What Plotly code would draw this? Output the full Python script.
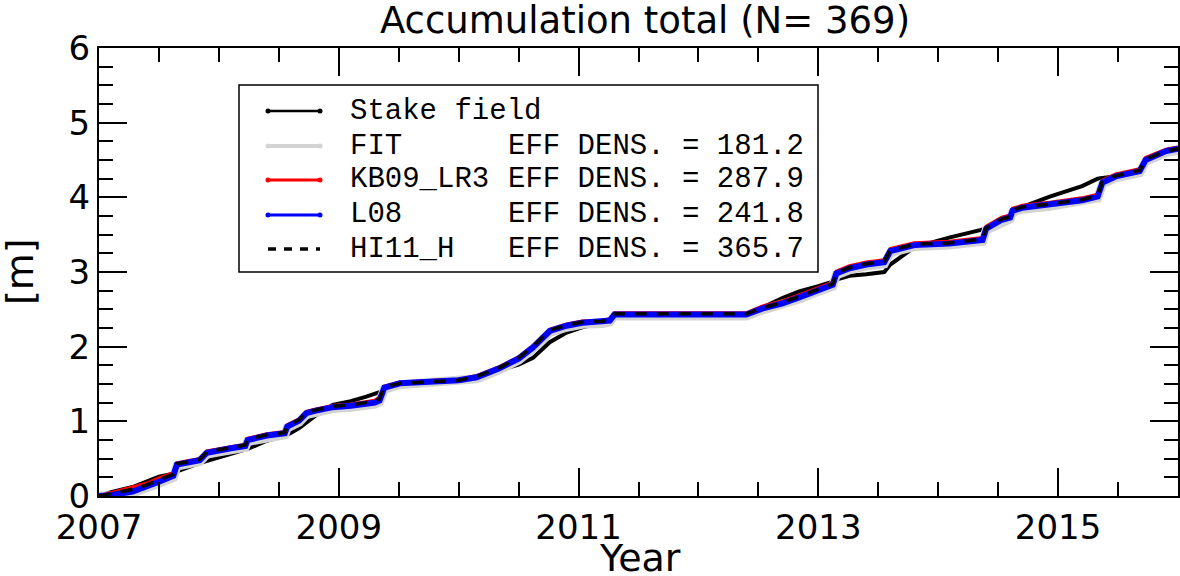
import plotly.graph_objects as go

# ---- data ----
years = [2007.00, 2007.10, 2007.28, 2007.40, 2007.50, 2007.62, 2007.65, 2007.84, 2007.90,
         2008.10, 2008.22, 2008.24, 2008.40, 2008.55, 2008.57, 2008.67, 2008.73, 2008.80, 2008.95,
         2009.10, 2009.23, 2009.30, 2009.34, 2009.38, 2009.51, 2009.70,
         2010.00, 2010.15, 2010.34, 2010.50, 2010.62, 2010.76, 2010.90,
         2011.03, 2011.20, 2011.26, 2011.30,
         2012.40, 2012.53, 2012.70, 2012.84,
         2013.00, 2013.12, 2013.15, 2013.26, 2013.40, 2013.55, 2013.60, 2013.80,
         2014.09, 2014.37, 2014.40, 2014.53, 2014.60, 2014.62, 2014.70, 2014.93,
         2015.20, 2015.33, 2015.37, 2015.48, 2015.68, 2015.73, 2015.90, 2016.00]

stake_field = [0.00, 0.05, 0.12, 0.20, 0.26, 0.30, 0.33, 0.44, 0.47,
               0.56, 0.62, 0.63, 0.74, 0.80, 0.82, 0.91, 0.98, 1.07, 1.22,
               1.27, 1.33, 1.36, 1.39, 1.43, 1.51, 1.53,
               1.54, 1.60, 1.68, 1.76, 1.85, 2.06, 2.19,
               2.26, 2.32, 2.36, 2.39,
               2.39, 2.52, 2.65, 2.74,
               2.81, 2.87, 2.90, 2.95, 2.97, 3.00, 3.10, 3.33,
               3.46, 3.57, 3.59, 3.63, 3.70, 3.75, 3.87, 4.01,
               4.15, 4.25, 4.26, 4.28, 4.32, 4.45, 4.60, 4.63]

fit = [0.00, 0.00, 0.04, 0.10, 0.17, 0.25, 0.40, 0.46, 0.56,
       0.62, 0.65, 0.73, 0.79, 0.82, 0.91, 0.99, 1.09, 1.12, 1.17,
       1.19, 1.21, 1.23, 1.26, 1.43, 1.49, 1.51,
       1.53, 1.57, 1.69, 1.82, 1.97, 2.19, 2.26,
       2.30, 2.31, 2.33, 2.41,
       2.41, 2.49, 2.56, 2.64,
       2.74, 2.81, 2.96, 3.03, 3.08, 3.11, 3.26, 3.34,
       3.36, 3.41, 3.56, 3.68, 3.71, 3.80, 3.84, 3.88,
       3.94, 3.99, 4.18, 4.26, 4.33, 4.48, 4.60, 4.63]

kb09_lr3 = [0.00, 0.04, 0.11, 0.17, 0.24, 0.31, 0.44, 0.50, 0.60,
            0.66, 0.69, 0.77, 0.83, 0.86, 0.95, 1.03, 1.13, 1.16, 1.21,
            1.23, 1.26, 1.28, 1.32, 1.47, 1.52, 1.54,
            1.56, 1.61, 1.73, 1.86, 2.01, 2.23, 2.30,
            2.34, 2.35, 2.37, 2.45,
            2.45, 2.54, 2.61, 2.69,
            2.79, 2.86, 3.01, 3.08, 3.13, 3.16, 3.31, 3.39,
            3.41, 3.46, 3.61, 3.73, 3.76, 3.85, 3.89, 3.93,
            3.99, 4.04, 4.23, 4.31, 4.38, 4.53, 4.64, 4.67]

l08 = [0.00, 0.01, 0.06, 0.12, 0.19, 0.27, 0.42, 0.48, 0.58,
       0.64, 0.67, 0.75, 0.81, 0.84, 0.93, 1.01, 1.11, 1.14, 1.19,
       1.21, 1.23, 1.25, 1.28, 1.45, 1.51, 1.53,
       1.55, 1.59, 1.71, 1.84, 1.99, 2.21, 2.28,
       2.32, 2.33, 2.35, 2.43,
       2.43, 2.51, 2.58, 2.66,
       2.76, 2.83, 2.98, 3.05, 3.10, 3.13, 3.28, 3.36,
       3.38, 3.43, 3.58, 3.70, 3.73, 3.82, 3.86, 3.90,
       3.96, 4.01, 4.20, 4.28, 4.35, 4.50, 4.62, 4.65]

hi11_h = [0.00, 0.03, 0.09, 0.15, 0.22, 0.29, 0.43, 0.49, 0.59,
          0.65, 0.68, 0.76, 0.82, 0.85, 0.94, 1.02, 1.12, 1.15, 1.20,
          1.22, 1.25, 1.27, 1.30, 1.46, 1.51, 1.53,
          1.55, 1.60, 1.72, 1.85, 2.00, 2.22, 2.29,
          2.33, 2.34, 2.36, 2.44,
          2.44, 2.52, 2.59, 2.67,
          2.77, 2.84, 2.99, 3.06, 3.11, 3.14, 3.29, 3.37,
          3.39, 3.44, 3.59, 3.71, 3.74, 3.83, 3.87, 3.91,
          3.97, 4.02, 4.21, 4.29, 4.36, 4.51, 4.62, 4.65]

series_names = ["Stake field", "FIT", "KB09_LR3", "L08", "HI11_H"]
eff_dens = [None, 181.2, 287.9, 241.8, 365.7]
n_points = 369

# ---- styles ----
colors = ["#000000", "#d3d3d3", "#ff0000", "#0000ff", "#000000"]
widths = [4, 9, 3.5, 6, 3.5]
dashes = ["solid", "solid", "solid", "solid", "12px,10px"]
values = [stake_field, fit, kb09_lr3, l08, hi11_h]

W, H = 1180, 576
L, R, T, B = 99, 2, 48, 80
PW, PH = W - L - R, H - T - B

def px(xp):
    return (xp - L) / PW

def py(yp):
    return (H - B - yp) / PH

fig = go.Figure()
for name, vals, c, w, d in zip(series_names, values, colors, widths, dashes):
    fig.add_trace(go.Scatter(x=years, y=vals, mode="lines", name=name,
                             line=dict(color=c, width=w, dash=d),
                             showlegend=False, cliponaxis=True))

tickfont = dict(family="DejaVu Sans", size=34, color="black")
axis_common = dict(showline=True, linewidth=2, linecolor="black", mirror="allticks",
                   ticks="inside", ticklen=28, tickwidth=2, tickcolor="black",
                   showgrid=False, zeroline=False, tickfont=tickfont, automargin=False)

fig.update_xaxes(range=[2007, 2016], tick0=2007, dtick=2,
                 minor=dict(tick0=2007, dtick=0.5, ticks="inside", ticklen=14,
                            tickwidth=2, tickcolor="black", showgrid=False),
                 **axis_common)
fig.update_yaxes(range=[0, 6], tick0=0, dtick=1,
                 minor=dict(tick0=0, dtick=0.25, ticks="inside", ticklen=14,
                            tickwidth=2, tickcolor="black", showgrid=False),
                 **axis_common)

shapes = []
annotations = []

# legend box
bx0, bx1, by0, by1 = 239, 818, 85, 272
shapes.append(dict(type="rect", xref="paper", yref="paper",
                   x0=px(bx0), x1=px(bx1), y0=py(by1), y1=py(by0),
                   line=dict(color="black", width=1.5), fillcolor="white", layer="above"))
row_y = [111, 146, 180, 215, 249]
lx0, lx1 = 268, 320
legend_widths = [2.5, 4, 3, 3, 3.5]
for i, name in enumerate(series_names):
    yy = py(row_y[i])
    shapes.append(dict(type="line", xref="paper", yref="paper",
                       x0=px(lx0), x1=px(lx1), y0=yy, y1=yy, layer="above",
                       line=dict(color=colors[i], width=legend_widths[i],
                                 dash="8px,8px" if i == 4 else "solid")))
    if i != 4:
        for xe in (lx0, lx1):
            r = 2.5
            shapes.append(dict(type="circle", xref="paper", yref="paper", layer="above",
                               x0=px(xe - r), x1=px(xe + r), y0=py(row_y[i] + r), y1=py(row_y[i] - r),
                               fillcolor=colors[i], line=dict(color=colors[i], width=0)))
    annotations.append(dict(xref="paper", yref="paper", x=px(348), y=yy, text=name,
                            xanchor="left", yanchor="middle", showarrow=False,
                            font=dict(family="Liberation Mono", size=29, color="black")))
    if eff_dens[i] is not None:
        annotations.append(dict(xref="paper", yref="paper", x=px(506), y=yy,
                                text="EFF DENS. = %.1f" % eff_dens[i],
                                xanchor="left", yanchor="middle", showarrow=False,
                                font=dict(family="Liberation Mono", size=29, color="black")))

# axis titles
annotations.append(dict(xref="paper", yref="paper", x=px(640), y=py(558), text="Year",
                        xanchor="center", yanchor="middle", showarrow=False,
                        font=dict(family="DejaVu Sans", size=38, color="black")))
annotations.append(dict(xref="paper", yref="paper", x=px(20), y=0.5, text="[m]", textangle=-90,
                        xanchor="center", yanchor="middle", showarrow=False,
                        font=dict(family="DejaVu Sans", size=38, color="black")))

fig.update_layout(
    width=W, height=H,
    margin=dict(l=L, r=R, t=T, b=B, autoexpand=False),
    paper_bgcolor="white", plot_bgcolor="white",
    title=dict(text="Accumulation total (N= %d)" % n_points, x=px(645), xref="paper",
               y=1 - 20 / H, yref="container", yanchor="middle", xanchor="center",
               font=dict(family="DejaVu Sans", size=37, color="black")),
    shapes=shapes, annotations=annotations, showlegend=False,
)

fig.write_html("out.html", config={"displayModeBar": False},
               post_script="document.body.style.margin='0px';document.body.style.overflow='hidden';")
